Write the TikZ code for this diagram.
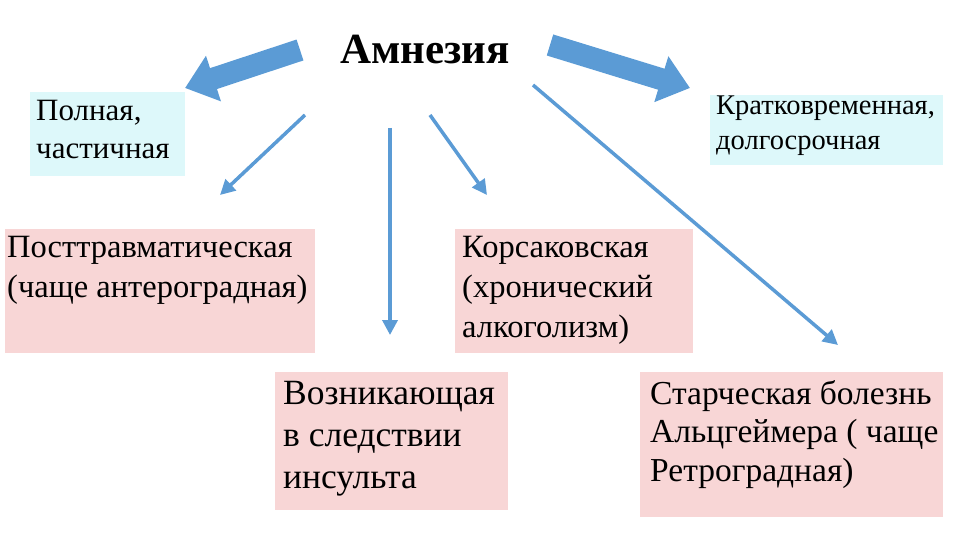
\documentclass[tikz,border=0pt]{standalone}
\usepackage{fontspec}
\setmainfont{Liberation Serif}
\usetikzlibrary{arrows.meta}
\definecolor{cy}{HTML}{DDF8FA}
\definecolor{pk}{HTML}{F8D6D6}
\definecolor{ab}{HTML}{5B9BD5}
\tikzset{
 cybox/.style={fill=cy,inner sep=0pt},
 pkbox/.style={fill=pk,inner sep=0pt},
 txt/.style={anchor=north west,align=left,inner sep=0pt},
 thin/.style={ab,line width=3.5pt,-{Triangle[width=15pt,length=15pt]}},
 big/.style={ab,line width=22pt,-{Triangle[width=46pt,length=30pt]}}
}
\begin{document}
\begin{tikzpicture}[x=1pt,y=-1pt]
\useasboundingbox (0,0) rectangle (960,540);
\node[font=\bfseries\fontsize{43}{45}\selectfont] (t) at (425,50) {Амнезия};
\fill[cybox] (30,92) rectangle (185,176);
\node[txt,font=\fontsize{31}{38}\selectfont] (a) at (36,100) {Полная,\\частичная};
\fill[cybox] (710,95) rectangle (943,165);
\node[txt,font=\fontsize{28.5}{35}\selectfont] (b) at (716,96) {Кратковременная,\\долгосрочная};
\fill[pkbox] (5,229) rectangle (315,353);
\node[txt,font=\fontsize{32.5}{40}\selectfont] (c) at (7,236) {Посттравматическая\\(чаще антероградная)};
\fill[pkbox] (455,229) rectangle (693,353);
\node[txt,font=\fontsize{32.5}{40}\selectfont] (d) at (462,236) {Корсаковская\\(хронический\\алкоголизм)};
\fill[pkbox] (275,372) rectangle (508,510);
\node[txt,font=\fontsize{35.5}{42}\selectfont] (e) at (283,381) {Возникающая\\в следствии\\инсульта};
\fill[pkbox] (640,372) rectangle (943,517);
\node[txt,font=\fontsize{33.5}{38.5}\selectfont] (f) at (650,380) {Старческая болезнь\\Альцгеймера ( чаще\\Ретроградная)};
\coordinate (l1) at (300,50); \coordinate (l2) at (185,88);
\coordinate (r1) at (550,45); \coordinate (r2) at (690,88);
\draw[big] (l1) -- (l2);
\draw[big] (r1) -- (r2);
\coordinate (p1) at (305,115); \coordinate (p2) at (220,195);
\coordinate (q1) at (390,128); \coordinate (q2) at (390,335);
\coordinate (s1) at (430,115); \coordinate (s2) at (487,195);
\coordinate (u1) at (533,85); \coordinate (u2) at (838,345);
\draw[thin] (p1) -- (p2);
\draw[thin] (q1) -- (q2);
\draw[thin] (s1) -- (s2);
\draw[thin] (u1) -- (u2);
\end{tikzpicture}
\end{document}
